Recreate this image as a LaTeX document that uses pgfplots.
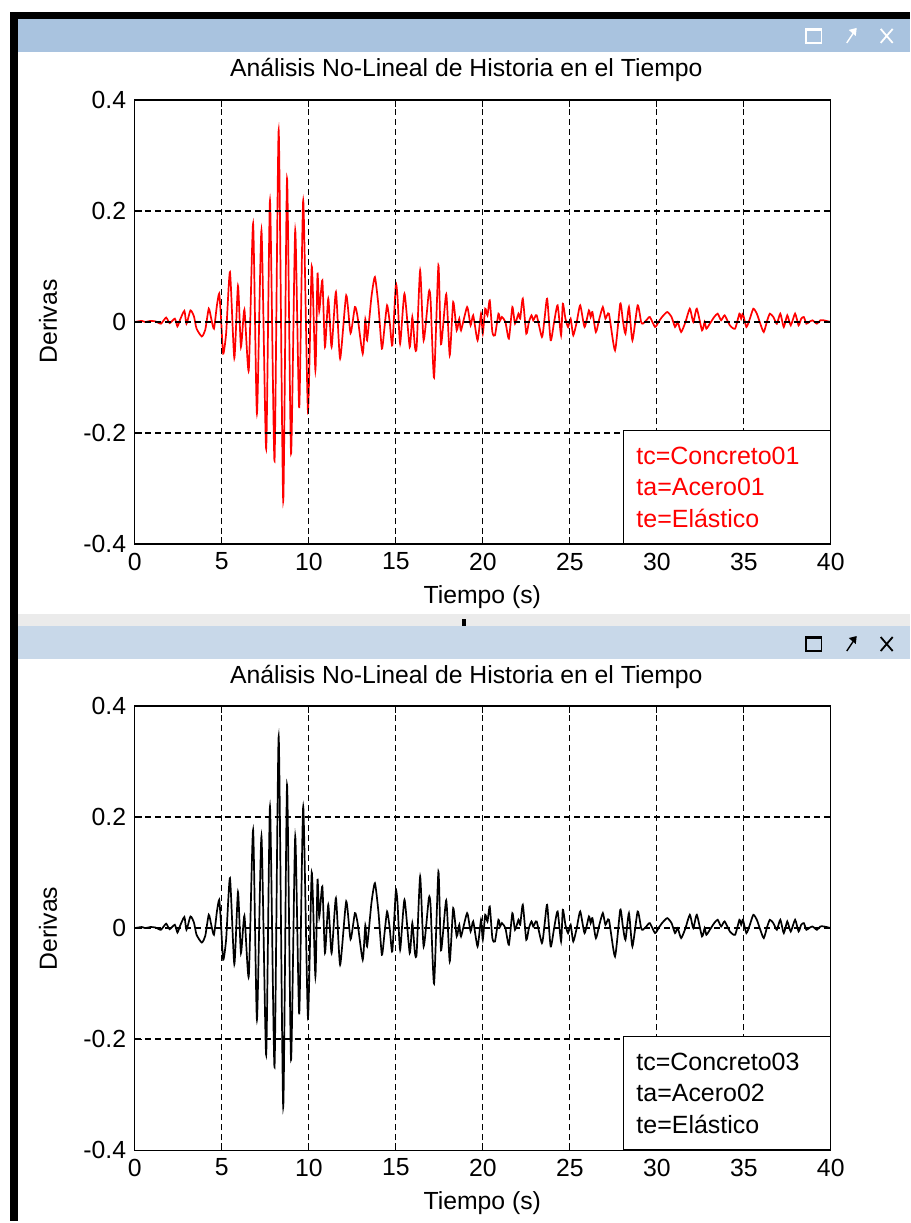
\documentclass[border=0pt]{standalone}
\usepackage{pgfplots}
\pgfplotsset{compat=1.18}
\usepackage{pgfplotstable}
\usepackage{fontspec}
\setmainfont{Liberation Sans}
\definecolor{barA}{HTML}{A9C3DF}
\definecolor{barB}{HTML}{C8D8E9}
\definecolor{sepg}{HTML}{EBEBEB}

\pgfplotstableread{
t v
0 0
0.4 0.002
0.6 0
0.9 0.002
1.2 0.001
1.5 -0.003
1.8 0.008
2.0 -0.002
2.3 0.006
2.45 -0.008
2.6 0.004
2.85 0.02
2.97 -0.003
3.2 0.021
3.4 0.01
3.55 -0.012
3.85 -0.026
4.05 -0.014
4.25 0.024
4.4 0.005
4.55 -0.012
4.72 0.03
4.85 0.051
4.95 0.01
5.08 -0.057
5.25 -0.02
5.47 0.09
5.72 -0.065
5.93 0.065
6.1 -0.045
6.3 0.022
6.55 -0.087
6.8 0.177
7.02 -0.165
7.28 0.165
7.55 -0.228
7.77 0.219
8.03 -0.25
8.27 0.345
8.53 -0.322
8.75 0.258
8.98 -0.237
9.22 0.165
9.45 -0.155
9.68 0.219
9.95 -0.16
10.17 0.1
10.38 -0.087
10.5 0.087
10.6 0.02
10.78 0.075
10.93 -0.045
11.12 0.042
11.31 -0.045
11.56 0.054
11.8 -0.066
12.15 0.048
12.4 -0.02
12.65 0.027
12.8 0.01
13.1 -0.057
13.25 0.005
13.35 -0.033
13.6 0.045
13.8 0.081
14.0 0.03
14.2 -0.048
14.35 -0.01
14.5 0.03
14.65 0.0
14.8 -0.042
15.0 0.066
15.1 0.045
15.25 -0.039
15.5 0.051
15.8 -0.045
15.95 0.009
16.1 -0.045
16.2 -0.045
16.4 0.093
16.6 -0.033
16.9 0.054
17.0 0.04
17.2 -0.1
17.45 0.102
17.6 -0.04
17.9 0.05
18.1 -0.06
18.3 0.036
18.5 -0.015
18.65 0.006
18.75 -0.015
19.1 0.027
19.3 -0.006
19.45 0.012
19.7 -0.033
19.9 0.015
20.0 -0.021
20.14 0.024
20.27 0.012
20.4 0.039
20.55 -0.018
20.7 -0.024
20.9 0.015
21.0 0.003
21.1 0.009
21.3 0.0
21.5 -0.03
21.7 0.027
21.85 -0.003
22.05 0.015
22.15 0.006
22.3 0.042
22.5 -0.021
22.65 0.0
22.8 0.012
22.9 0.003
23.0 0.009
23.1 0.012
23.4 -0.027
23.55 0.006
23.7 0.042
23.9 -0.033
24.1 0.0
24.3 0.03
24.5 -0.024
24.6 0.033
24.75 0.006
24.9 -0.009
25.05 0.006
25.2 -0.024
25.4 0.0
25.6 0.03
25.85 -0.009
26.1 0.021
26.2 0.009
26.3 0.018
26.5 -0.018
26.7 0.006
26.9 0.027
27.05 0.006
27.25 0.015
27.6 -0.051
27.9 0.033
28.05 0.003
28.2 -0.021
28.4 0.027
28.6 -0.033
28.9 0.03
29.1 0.0
29.2 -0.003
29.4 0.003
29.6 0.009
29.9 -0.009
30.1 0.0
30.3 0.009
30.6 0.018
30.85 0.009
31.05 -0.009
31.2 0.0
31.4 -0.018
31.65 0.0
31.9 0.024
32.1 0.0
32.3 0.024
32.6 -0.015
32.75 0.0
32.85 -0.012
33.05 -0.003
33.3 0.009
33.5 0.015
33.7 0.003
33.9 0.012
34.2 -0.006
34.5 -0.012
34.75 0.015
34.85 0.006
34.95 0.015
35.15 -0.009
35.35 0.006
35.55 0.024
35.75 0.015
35.95 -0.003
36.15 -0.018
36.35 0.003
36.5 0.015
36.7 0.009
36.9 -0.003
37.1 0.015
37.3 -0.009
37.5 0.012
37.7 -0.006
37.95 0.015
38.15 -0.006
38.3 0.006
38.45 0.009
38.6 -0.003
38.75 0.0
38.95 0.003
39.2 -0.003
39.4 0.003
39.6 0.003
40 0
}\sig

\pgfplotsset{
  mystyle/.style={
    scale only axis, width=348.5pt, height=222.5pt,
    anchor=south west,
    xmin=0, xmax=40, ymin=-0.4, ymax=0.4,
    xtick={0,5,10,15,20,25,30,35,40},
    ytick={-0.4,-0.2,0,0.2,0.4},
    yticklabels={-0.4,-0.2,0,0.2,0.4},
    grid=major,
    major grid style={black, line width=0.7pt, dash pattern=on 3pt off 2pt},
    axis line style={black, line width=0.7pt},
    tick align=inside, major tick length=3.5pt,
    tick style={black, line width=0.6pt},
    tick label style={font=\fontsize{12.4}{14}\selectfont},
    /pgf/number format/assume math mode=true,
    axis on top,
  }
}

\begin{document}
\begin{tikzpicture}
\fontsize{12.4}{14}\selectfont
% background and window chrome
\fill[white] (0,0) rectangle (455.5pt,611.5pt);
\fill[black] (5pt,602pt) rectangle (455.5pt,605.5pt);
\fill[black] (5pt,0pt) rectangle (9pt,605.5pt);
\fill[barA] (9pt,585.5pt) rectangle (455.5pt,602pt);
\fill[sepg] (9pt,298pt) rectangle (455.5pt,304pt);
\draw[gray!60, line width=0.4pt] (9pt,298pt) -- (455.5pt,298pt);
\fill[barB] (9pt,281.5pt) rectangle (455.5pt,298pt);
\fill[black] (231.5pt,298pt) rectangle (233.5pt,301.5pt);
% icons top
\begin{scope}[white, line width=0.7pt]
\draw (403.5pt,590pt) rectangle (411.5pt,597pt);
\draw[line width=1.4pt] (403.5pt,596.5pt) -- (411.5pt,596.5pt);
\draw (424pt,590pt) -- (428pt,596pt);
\fill (429pt,597.5pt) -- (425pt,596.5pt) -- (428.5pt,593.5pt) -- cycle;
\draw[line width=0.9pt] (441pt,590pt) -- (447pt,597pt) (441pt,597pt) -- (447pt,590pt);
\end{scope}
% icons bottom
\begin{scope}[black, line width=0.7pt]
\draw (403.5pt,285.5pt) rectangle (411.5pt,292.5pt);
\draw[line width=1.4pt] (403.5pt,292pt) -- (411.5pt,292pt);
\draw (424pt,285.5pt) -- (428pt,291.5pt);
\fill (429pt,293pt) -- (425pt,292pt) -- (428.5pt,289pt) -- cycle;
\draw[line width=0.9pt] (441pt,285.5pt) -- (447pt,292.5pt) (441pt,292.5pt) -- (447pt,285.5pt);
\end{scope}

% ---------- top axis ----------
\begin{axis}[mystyle, name=ax1, at={(67.5pt,339pt)}]
\addplot[red, line width=0.85pt, smooth, tension=0.35] table[x=t,y=v] {\sig};
\end{axis}
\node[draw=black, line width=0.6pt, fill=white, anchor=south east,
  text width=90.5pt, inner xsep=6.5pt, minimum height=56.5pt, align=left,
  text=red, font=\fontsize{12.5}{15.75}\selectfont]
  at (ax1.south east) {tc=Concreto01\\ta=Acero01\\te=Elástico};
\node at (233.5pt,576.5pt) {Análisis No-Lineal de Historia en el Tiempo};
\node[rotate=90] at (24pt,450.5pt) {Derivas};
\node at (241.5pt,312.5pt) {Tiempo (s)};

% ---------- bottom axis ----------
\begin{axis}[mystyle, name=ax2, at={(67.5pt,35.5pt)}]
\addplot[black, line width=0.85pt, smooth, tension=0.35] table[x=t,y=v] {\sig};
\end{axis}
\node[draw=black, line width=0.6pt, fill=white, anchor=south east,
  text width=90.5pt, inner xsep=6.5pt, minimum height=56.5pt, align=left,
  text=black, font=\fontsize{12.5}{15.75}\selectfont]
  at (ax2.south east) {tc=Concreto03\\ta=Acero02\\te=Elástico};
\node at (233.5pt,272.5pt) {Análisis No-Lineal de Historia en el Tiempo};
\node[rotate=90] at (24pt,146.5pt) {Derivas};
\node at (241.5pt,9pt) {Tiempo (s)};
\end{tikzpicture}
\end{document}
